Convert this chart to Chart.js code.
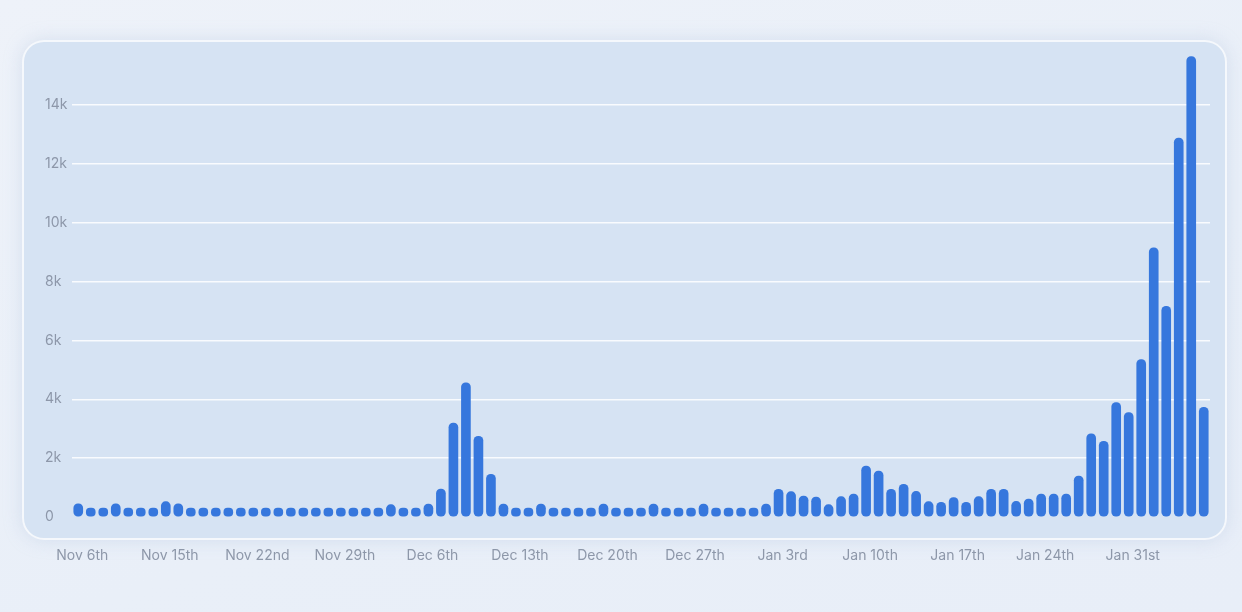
<!DOCTYPE html>
<html lang="en">
<head>
    <meta charset="UTF-8">
    <title>Daily Bars</title>
    <script src="https://cdn.jsdelivr.net/npm/chart.js@4.4.0/dist/chart.umd.min.js"></script>
    <style>
        html, body { margin: 0; padding: 0; }
        body {
            width: 1242px; height: 612px; overflow: hidden; position: relative;
            background: linear-gradient(160deg, #eef2f9 0%, #e9eff8 60%, #e8eef8 100%);
        }
        .card {
            position: absolute; left: 22px; top: 40px; width: 1201px; height: 496px;
            background: #d6e3f3;
            border: 2px solid rgba(255, 255, 255, 0.75);
            border-radius: 22px;
            box-shadow: 0 0 18px rgba(170, 190, 220, 0.35);
        }
        #wrap { position: absolute; left: 0; top: 0; width: 1242px; height: 612px; }
    </style>
</head>
<body>
    <div class="card"></div>
    <div id="wrap"><canvas id="myChart"></canvas></div>

    <script>
        // one bar per day, Nov 6th .. Feb 4th
        const categories = [
            'Nov 6', 'Nov 7', 'Nov 8', 'Nov 9', 'Nov 10', 'Nov 11', 'Nov 12', 'Nov 13', 'Nov 14', 'Nov 15',
            'Nov 16', 'Nov 17', 'Nov 18', 'Nov 19', 'Nov 20', 'Nov 21', 'Nov 22', 'Nov 23', 'Nov 24', 'Nov 25',
            'Nov 26', 'Nov 27', 'Nov 28', 'Nov 29', 'Nov 30', 'Dec 1', 'Dec 2', 'Dec 3', 'Dec 4', 'Dec 5',
            'Dec 6', 'Dec 7', 'Dec 8', 'Dec 9', 'Dec 10', 'Dec 11', 'Dec 12', 'Dec 13', 'Dec 14', 'Dec 15',
            'Dec 16', 'Dec 17', 'Dec 18', 'Dec 19', 'Dec 20', 'Dec 21', 'Dec 22', 'Dec 23', 'Dec 24', 'Dec 25',
            'Dec 26', 'Dec 27', 'Dec 28', 'Dec 29', 'Dec 30', 'Dec 31', 'Jan 1', 'Jan 2', 'Jan 3', 'Jan 4',
            'Jan 5', 'Jan 6', 'Jan 7', 'Jan 8', 'Jan 9', 'Jan 10', 'Jan 11', 'Jan 12', 'Jan 13', 'Jan 14',
            'Jan 15', 'Jan 16', 'Jan 17', 'Jan 18', 'Jan 19', 'Jan 20', 'Jan 21', 'Jan 22', 'Jan 23', 'Jan 24',
            'Jan 25', 'Jan 26', 'Jan 27', 'Jan 28', 'Jan 29', 'Jan 30', 'Jan 31', 'Feb 1', 'Feb 2', 'Feb 3',
            'Feb 4'
        ];

        const values = [
            450, 300, 300, 450, 300, 300, 300, 520, 450, 300,
            300, 300, 300, 300, 300, 300, 300, 300, 300, 300,
            300, 300, 300, 300, 300, 420, 300, 300, 440, 950,
            3190, 4560, 2740, 1450, 440, 300, 300, 440, 300, 300,
            300, 300, 440, 300, 300, 300, 440, 300, 300, 300,
            440, 300, 300, 300, 300, 440, 940, 860, 710, 680,
            420, 690, 780, 1730, 1560, 940, 1110, 870, 520, 500,
            660, 500, 690, 940, 940, 530, 610, 780, 780, 780,
            1390, 2830, 2570, 3890, 3550, 5350, 9150, 7160, 12880, 15650,
            3730
        ];

        // x labels shown every 7th bar
        const tickLabels = ['Nov 6th', 'Nov 15th', 'Nov 22nd', 'Nov 29th', 'Dec 6th', 'Dec 13th', 'Dec 20th',
            'Dec 27th', 'Jan 3rd', 'Jan 10th', 'Jan 17th', 'Jan 24th', 'Jan 31st'];
        const yTicks = [0, 2000, 4000, 6000, 8000, 10000, 12000, 14000];
        const yTickLabels = ['0', '2k', '4k', '6k', '8k', '10k', '12k', '14k'];

        const barColor = '#3677dd';
        const tickColor = '#8d97a9';

        const ctx = document.getElementById('myChart').getContext('2d');

        new Chart(ctx, {
            type: 'bar',
            data: {
                labels: categories,
                datasets: [{
                    data: values,
                    backgroundColor: barColor,
                    borderRadius: 5,
                    borderSkipped: false,
                    barThickness: 9
                }]
            },
            options: {
                responsive: true,
                maintainAspectRatio: false,
                animation: false,
                layout: {
                    padding: { left: 45, right: 32, top: 55, bottom: 48 }
                },
                scales: {
                    x: {
                        afterFit: function(scale) { scale.height = 47; },
                        grid: { display: false },
                        border: { display: false },
                        ticks: {
                            autoSkip: false,
                            maxRotation: 0,
                            padding: 22,
                            labelOffset: 4,
                            color: tickColor,
                            font: { family: 'Inter', size: 14 },
                            callback: function(value, index) {
                                return index % 7 === 0 ? tickLabels[index / 7] : '';
                            }
                        }
                    },
                    y: {
                        min: 0,
                        max: 15700,
                        afterFit: function(scale) { scale.width = 27; },
                        afterBuildTicks: function(scale) {
                            scale.ticks = yTicks.map(v => ({ value: v }));
                        },
                        grid: {
                            drawTicks: false,
                            lineWidth: 1.5,
                            color: function(c) {
                                return c.tick && c.tick.value === 0 ? 'rgba(0,0,0,0)' : 'rgba(255,255,255,0.85)';
                            }
                        },
                        border: { display: false },
                        ticks: {
                            crossAlign: 'far',
                            padding: 6,
                            color: tickColor,
                            font: { family: 'Inter', size: 14 },
                            callback: function(value) {
                                return yTickLabels[yTicks.indexOf(value)];
                            }
                        }
                    }
                },
                plugins: {
                    legend: { display: false },
                    tooltip: { enabled: false }
                }
            }
        });
    </script>
</body>
</html>
